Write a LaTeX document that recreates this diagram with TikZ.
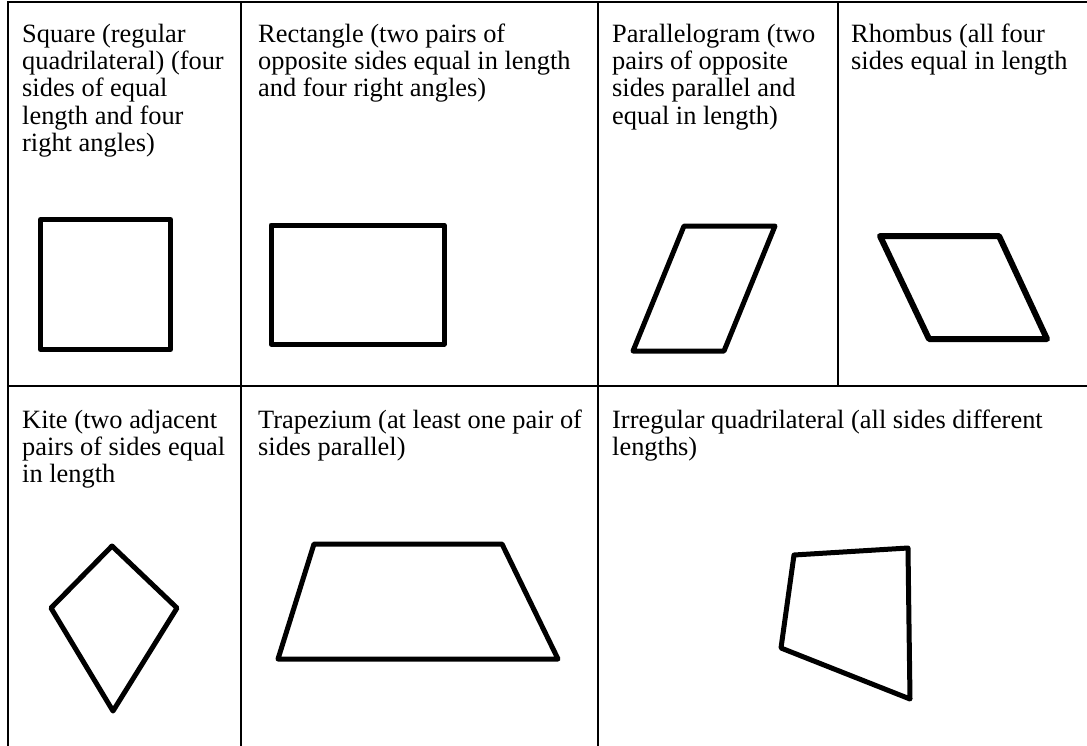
\documentclass[tikz,border=0pt]{standalone}
\usepackage{fontspec}
\setmainfont{Liberation Serif}
\begin{document}
\begin{tikzpicture}[x=1pt,y=-1pt,
  grid/.style={line width=2pt,line cap=rect},
  quad/.style={line width=5pt,line join=round},
  cell/.style={anchor=north west,inner sep=0pt,align=left,font=\fontsize{26.4}{27.3}\selectfont}]
\useasboundingbox (0,0) rectangle (1087,745);
% table grid
\draw[grid] (7.5,745) -- (7.5,1.5) -- (1087,1.5);
\draw[grid] (7.5,386) -- (1087,386);
\draw[grid] (241,1.5) -- (241,745);
\draw[grid] (598,1.5) -- (598,745);
\draw[grid] (838,1.5) -- (838,386);
% texts
\node[cell] (tsq) at (22,23) {\strut Square (regular\\quadrilateral) (four\\sides of equal\\length and four\\right angles)};
\node[cell] (tre) at (258,23) {\strut Rectangle (two pairs of\\opposite sides equal in length\\and four right angles)};
\node[cell] (tpa) at (612,23) {\strut Parallelogram (two\\pairs of opposite\\sides parallel and\\equal in length)};
\node[cell] (trh) at (851,23) {\strut Rhombus (all four\\sides equal in length};
\node[cell] (tki) at (22,409) {\strut Kite (two adjacent\\pairs of sides equal\\in length};
\node[cell] (ttr) at (258,409) {\strut Trapezium (at least one pair of\\sides parallel)};
\node[cell] (tir) at (612,409) {\strut Irregular quadrilateral (all sides different\\lengths)};
% shapes
\draw[quad] (40.5,219.5) rectangle (170.5,349.5);
\draw[quad] (271,225) rectangle (444,344);
\draw[quad] (684,226) -- (775,226) -- (724,351) -- (633,351) -- cycle;
\draw[quad,line width=6pt] (880,236) -- (999,236) -- (1047,339) -- (929,339) -- cycle;
\draw[quad] (112,546) -- (177,608) -- (113,711) -- (51,608) -- cycle;
\draw[quad] (314,544) -- (502,544) -- (558,659) -- (278,659) -- cycle;
\draw[quad] (794,555) -- (908,548) -- (909,625) -- (910,699) -- (781,648) -- cycle;
\end{tikzpicture}
\end{document}
